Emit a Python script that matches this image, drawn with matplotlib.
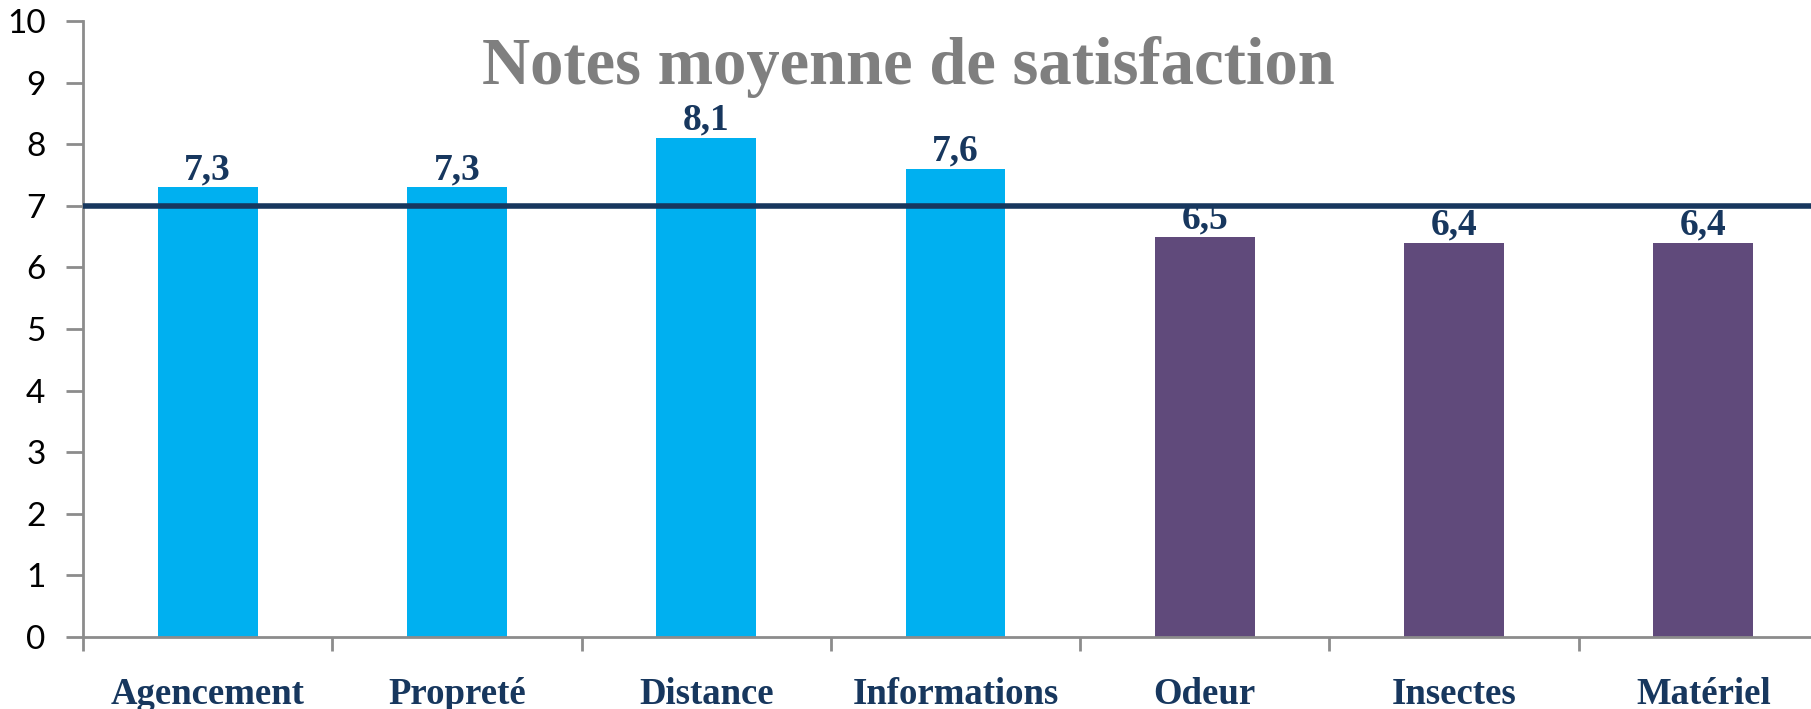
import matplotlib.pyplot as plt
import numpy as np

# Average satisfaction scores (out of 10)
categories = ['Agencement', 'Propreté', 'Distance', 'Informations', 'Odeur', 'Insectes', 'Matériel']
scores = [7.3, 7.3, 8.1, 7.6, 6.5, 6.4, 6.4]
bar_colors = ['#00B0F0', '#00B0F0', '#00B0F0', '#00B0F0', '#604A7B', '#604A7B', '#604A7B']
reference_score = 7
y_ticks = list(range(0, 11))

navy = '#17375E'
axis_grey = '#8C8C8C'

fig = plt.figure(figsize=(18.11, 7.09), dpi=100)
ax = fig.add_axes([83 / 1811, 72 / 709, 1745 / 1811, 616 / 709])

x = np.arange(len(categories))
bars = ax.bar(x, scores, width=0.4, color=bar_colors, zorder=2)

# value labels above each bar (French decimal comma)
for xi, v in zip(x, scores):
    ax.annotate(f'{v:.1f}'.replace('.', ','), xy=(xi, v), xytext=(0, 6),
                textcoords='offset points', ha='center', va='baseline',
                fontsize=27, fontweight='bold', color=navy,
                family='Liberation Serif', zorder=4)

ax.axhline(reference_score, color=navy, linewidth=4, zorder=3)

ax.set_xlim(-0.5, len(categories) - 0.5)
ax.set_ylim(0, 10)
ax.set_yticks(y_ticks)

ax.set_xticks(x)
ax.set_xticklabels(categories, fontsize=26.5, fontweight='bold', color=navy,
                   family='Liberation Serif')
ax.set_xticks(np.arange(-0.5, len(categories)), minor=True)
ax.tick_params(axis='x', which='major', length=0, pad=29)
ax.tick_params(axis='x', which='minor', length=10, width=2, color=axis_grey)
ax.tick_params(axis='y', length=12, width=2, color=axis_grey, pad=15,
               labelsize=24, labelcolor='black')
for lbl in ax.get_yticklabels():
    lbl.set_family('Lato')

for side in ['top', 'right']:
    ax.spines[side].set_visible(False)
for side in ['left', 'bottom']:
    ax.spines[side].set_color(axis_grey)
    ax.spines[side].set_linewidth(2)

fig.text(908 / 1811, 1 - 84 / 709, 'Notes moyenne de satisfaction',
         ha='center', va='baseline', fontsize=48, fontweight='bold',
         color='#7F7F7F', family='Liberation Serif')

fig.savefig('out.png', dpi=100)
